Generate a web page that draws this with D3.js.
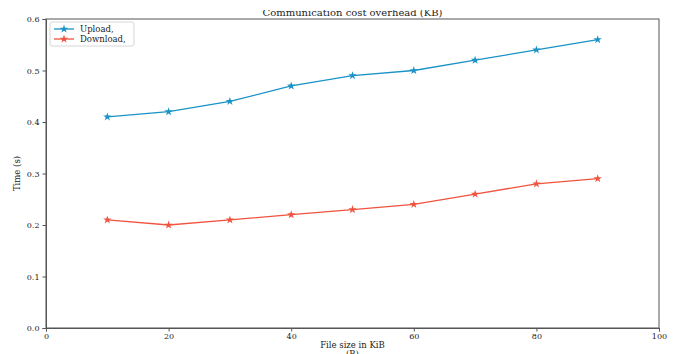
<!DOCTYPE html>
<html>
<head>
<meta charset="utf-8">
<script src="https://cdn.jsdelivr.net/npm/d3@7"></script>
<style>
  body { margin: 0; background: #fff; }
  svg text { font-family: "DejaVu Serif", "Liberation Serif", serif; fill: #222; }
</style>
</head>
<body>
<div id="chart"></div>
<script>
const fileSizes = [10, 20, 30, 40, 50, 60, 70, 80, 90];
const upload = [0.41, 0.42, 0.44, 0.47, 0.49, 0.50, 0.52, 0.54, 0.56];
const download = [0.21, 0.20, 0.21, 0.22, 0.23, 0.24, 0.26, 0.28, 0.29];
const xTicks = [0, 20, 40, 60, 80, 100];
const yTicks = [0.0, 0.1, 0.2, 0.3, 0.4, 0.5, 0.6];
const seriesNames = ["Upload,", "Download,"];

const width = 678, height = 354;
const margin = { top: 19, right: 19, bottom: 26, left: 46 };

const svg = d3.select("#chart").append("svg")
  .attr("width", width)
  .attr("height", height);

const x = d3.scaleLinear().domain([0, 100]).range([margin.left, width - margin.right]);
const y = d3.scaleLinear().domain([0, 0.6]).range([height - margin.bottom, margin.top]);

// frame
svg.append("rect")
  .attr("x", margin.left).attr("y", margin.top)
  .attr("width", x(100) - x(0)).attr("height", y(0) - y(0.6))
  .attr("fill", "none").attr("stroke", "#555").attr("stroke-width", 1);

const xAxis = svg.append("g")
  .attr("transform", "translate(0," + y(0) + ")")
  .call(d3.axisBottom(x).tickValues(xTicks).tickSize(3.5).tickPadding(2).tickFormat(d3.format("d")));
const yAxis = svg.append("g")
  .attr("transform", "translate(" + x(0) + ",0)")
  .call(d3.axisLeft(y).tickValues(yTicks).tickSize(3.5).tickPadding(3).tickFormat(d3.format(".1f")));

[xAxis, yAxis].forEach(a => {
  a.select(".domain").attr("stroke", "#555");
  a.selectAll(".tick line").attr("stroke", "#555");
  a.selectAll("text").attr("font-size", 8).attr("font-family", "DejaVu Serif, serif").attr("fill", "#222");
});

// title, cut at the top like the picture
svg.append("clipPath").attr("id", "cut")
  .append("rect").attr("x", 0).attr("y", 10).attr("width", width).attr("height", 20);
svg.append("text")
  .attr("clip-path", "url(#cut)")
  .attr("x", (x(0) + x(100)) / 2).attr("y", 16)
  .attr("text-anchor", "middle").attr("font-size", 10)
  .text("Communication cost overhead (KB)");

svg.append("text")
  .attr("x", (x(0) + x(100)) / 2).attr("y", 348)
  .attr("text-anchor", "middle").attr("font-size", 8.5)
  .text("File size in KiB");
svg.append("text")
  .attr("x", (x(0) + x(100)) / 2).attr("y", 357)
  .attr("text-anchor", "middle").attr("font-size", 8.5)
  .text("(B)");

svg.append("text")
  .attr("transform", "translate(20," + ((y(0) + y(0.6)) / 2) + ") rotate(-90)")
  .attr("text-anchor", "middle").attr("font-size", 8.5)
  .text("Time (s)");

const colors = ["#1a92c6", "#f0533f"];
const line = d3.line().x((d, i) => x(fileSizes[i])).y(d => y(d));
const star = d3.symbol().type(d3.symbolStar).size(22);

[upload, download].forEach((vals, k) => {
  svg.append("path").datum(vals)
    .attr("d", line).attr("fill", "none")
    .attr("stroke", colors[k]).attr("stroke-width", 1.3);
  svg.selectAll(".m" + k).data(vals).enter().append("path")
    .attr("transform", (d, i) => "translate(" + x(fileSizes[i]) + "," + y(d) + ")")
    .attr("d", star).attr("fill", colors[k]);
});

// legend
const lg = svg.append("g").attr("transform", "translate(50,22)");
lg.append("rect").attr("width", 84).attr("height", 24).attr("rx", 2)
  .attr("fill", "#fff").attr("stroke", "#ccc").attr("stroke-width", 0.8);
seriesNames.forEach((name, k) => {
  const yy = 7 + k * 10;
  lg.append("line").attr("x1", 4).attr("x2", 24).attr("y1", yy).attr("y2", yy)
    .attr("stroke", colors[k]).attr("stroke-width", 1.3);
  lg.append("path").attr("transform", "translate(14," + yy + ")").attr("d", star).attr("fill", colors[k]);
  lg.append("text").attr("x", 30).attr("y", yy + 3).attr("font-size", 8.5).text(name);
});
</script>
</body>
</html>
